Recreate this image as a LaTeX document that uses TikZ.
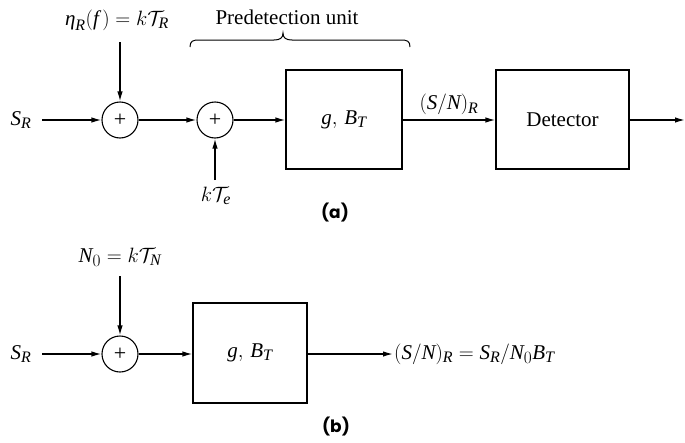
\documentclass[tikz,border=0pt]{standalone}
\usepackage{amsmath}
\usepackage{fontspec}
\setmainfont{Liberation Serif}
\newfontfamily\labfont{Poppins}
\usetikzlibrary{arrows.meta}
\DeclareMathSizes{21}{21}{16}{12}
\newcommand\vi[1]{\text{\itshape #1}}
\begin{document}
\begin{tikzpicture}[x=1pt,y=-1pt,
  font=\fontsize{21}{25}\selectfont,
  sumnode/.style={draw,circle,minimum size=36pt,inner sep=0pt,line width=1.1pt,font=\fontsize{22}{24}\selectfont},
  blockbox/.style={draw,rectangle,line width=1.1pt,inner sep=0pt},
  conn/.style={line width=1.4pt,-{Latex[length=10pt,width=5.5pt]}},
  panel/.style={font=\labfont\bfseries\fontsize{17}{20}\selectfont}]
\useasboundingbox (0,0) rectangle (685,442);
% ---- (a)
\node (sr1) at (21,120) {$\vi{S}_{\vi{R}}$};
\coordinate (sr1e) at (42,120);
\node[sumnode] (c1) at (120,120) {+};
\node (eta) at (117,20) {$\vi{η}_{\vi{R}}(\vi{f}\,) = k\mathcal{T}_{\vi{R}}$};
\coordinate (etae) at (120,42);
\node[sumnode] (c2) at (215,120) {+};
\node (kte) at (216,196) {$k\mathcal{T}_{\vi{e}}$};
\coordinate (ktee) at (215,180);
\node[blockbox,minimum width=116pt,minimum height=99pt] (b1) at (344,119.5) {$\vi{g},\,\vi{B}_{\vi{T}}$};
\node[blockbox,minimum width=133pt,minimum height=99pt] (det) at (562.5,119.5) {Detector};
\coordinate (out1) at (685,120);
\draw[conn] (sr1e) -- (c1);
\draw[conn] (etae) -- (c1);
\draw[conn] (c1) -- (c2);
\draw[conn] (ktee) -- (c2);
\draw[conn] (c2) -- (b1.west |- c2);
\draw[conn] (b1.east |- c2) -- node[above=1pt] {$(\vi{S}/\vi{N})_{\vi{R}}$} (det.west |- c2);
\draw[conn] (det.east |- c2) -- (out1);
\node (pu) at (287,17) {Predetection unit};
\draw[line width=1pt] (190,47) .. controls (190,41) and (193,40) .. (199,40)
  -- (274,40) .. controls (280,40) and (283,38) .. (283,33)
  .. controls (283,38) and (286,40) .. (292,40)
  -- (401,40) .. controls (407,40) and (410,41) .. (410,47);
\node[panel] (pa) at (335,213) {(a)};
% ---- (b)
\node (sr2) at (21,354) {$\vi{S}_{\vi{R}}$};
\coordinate (sr2e) at (42,354);
\node[sumnode] (c3) at (120,354) {+};
\node (n0) at (120,257) {$\vi{N}_{0} = k\mathcal{T}_{\vi{N}}$};
\coordinate (n0e) at (120,276);
\node[blockbox,minimum width=114pt,minimum height=100pt] (b2) at (250,353) {$\vi{g},\,\vi{B}_{\vi{T}}$};
\coordinate (out2) at (393,354);
\node[anchor=west,inner sep=1pt] (res) at (out2) {$(\vi{S}/\vi{N})_{\vi{R}} = \vi{S}_{\vi{R}}/\vi{N}_{0}\vi{B}_{\vi{T}}$};
\draw[conn] (sr2e) -- (c3);
\draw[conn] (n0e) -- (c3);
\draw[conn] (c3) -- (b2.west |- c3);
\draw[conn] (b2.east |- c3) -- (out2);
\node[panel] (pb) at (336,427) {(b)};
\end{tikzpicture}
\end{document}
